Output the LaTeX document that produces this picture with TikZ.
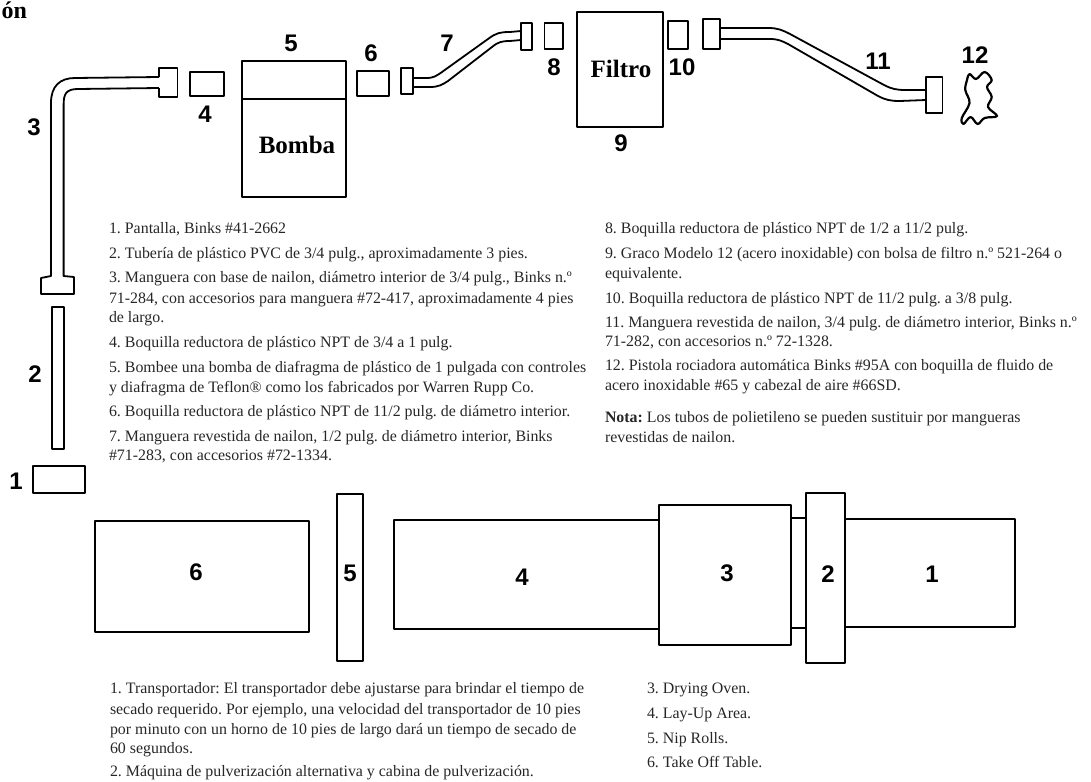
\documentclass[tikz,border=0pt]{standalone}
\usepackage{fontspec}
\setmainfont{Liberation Serif}
\newfontfamily\lblfont{Liberation Sans}
\tikzset{
  part/.style={draw=black,line width=1.8pt,line join=round,fill=none},
  thin part/.style={draw=black,line width=1.5pt,line join=round},
  tx/.style={anchor=base west,inner sep=0pt,outer sep=0pt,text=black!85,font=\frenchspacing\fontsize{15.9}{16}\selectfont},
  num/.style={inner sep=0pt,font=\lblfont\bfseries\fontsize{24}{24}\selectfont},
  head/.style={inner sep=0pt,font=\bfseries\fontsize{25}{25}\selectfont}
}
\newcommand{\tline}[4]{\node[tx] (#1) at (#2,#3) {#4};}
\begin{document}
\begin{tikzpicture}[x=1pt,y=-1pt]
\useasboundingbox (0,0) rectangle (1091,781);
\node[inner sep=0pt,anchor=base west,font=\bfseries\fontsize{24}{24}\selectfont] (title) at (1.5,19) {ón};
% hose 3
\draw[part] (159,77) -- (75,78) .. controls (60,78) and (51,86) .. (51,103) -- (51,276) -- (41,278) -- (41,294) -- (74,294) -- (74,277) -- (63.6,276) -- (63.6,105) .. controls (63.6,94) and (66,89) .. (78,89) -- (159,88);
\draw[part] (159,77) -- (159,68) -- (177.5,68) -- (177.5,97) -- (159,97) -- (159,88);
\draw[part] (52,307) rectangle (64,449);
\draw[part] (33,466) rectangle (85,493);
\draw[part] (190,72) rectangle (223.6,96);
% pump
\draw[part] (242,61) rectangle (346,197);
\draw[part] (242,99) -- (346,99);
\draw[part] (357,71) rectangle (389,96);
% hose 7
\draw[part] (401,68) rectangle (413,94);
\draw[part] (413,78) -- (426,78) .. controls (434,78) and (436,76) .. (442,72) -- (488,39) .. controls (496,33) and (500,32) .. (510,32) -- (521,31);
\draw[part] (413,87) -- (430,87) .. controls (438,87) and (442,85) .. (448,81) -- (492,47) .. controls (498,42) and (502,41) .. (510,41) -- (521,40);
\draw[part] (521,23) rectangle (532,50);
\draw[part] (544.5,23) rectangle (563,49);
% filter
\draw[part] (577,12) rectangle (663,127);
\draw[part] (668,21) rectangle (688,49);
% hose 11
\draw[part] (703,19) rectangle (720,49);
\draw[part] (720,28) -- (768,28) .. controls (778,28) and (782,30) .. (790,34) -- (884,85) .. controls (892,89) and (896,90) .. (906,90) -- (926,90);
\draw[part] (720,39) -- (770,39) .. controls (778,39) and (782,41) .. (788,44) -- (878,96) .. controls (886,100) and (890,101) .. (900,101) -- (926,100);
\draw[part] (926,77) rectangle (942.5,113);
% gun
\draw[draw=black,line width=2.2pt,line join=round] plot[smooth cycle,tension=0.6] coordinates {(969.5,74) (976,79) (984.6,72) (991.7,80) (987,87) (991.7,97) (988,107) (997,116) (984.6,118) (977.6,124) (970.6,117) (963.5,124) (961.8,118) (969.5,103) (965.3,90) (967,80)};
% conveyor line
\draw[thin part] (95,521) rectangle (309,632);
\draw[thin part] (337,494) rectangle (363,661);
\draw[thin part] (394,520) rectangle (659,629);
\draw[thin part] (659,505) rectangle (791,645);
\draw[thin part] (791,518) rectangle (806,628);
\draw[thin part] (806,493) rectangle (845,663);
\draw[thin part] (845,519) rectangle (1015,627);
% labels top
\node[num] (n1) at (16,481) {1};
\node[num] (n2) at (35,374) {2};
\node[num] (n3) at (34,127) {3};
\node[num] (n4) at (205,114) {4};
\node[num] (n5) at (291,43) {5};
\node[num] (n6) at (371,53) {6};
\node[num] (n7) at (447,43) {7};
\node[num] (n8) at (554,67) {8};
\node[num] (n9) at (621,143) {9};
\node[num] (n10) at (682,67) {10};
\node[num] (n11) at (878,61) {11};
\node[num] (n12) at (975,55) {12};
\node[head] (bomba) at (297,145) {Bomba};
\node[head] (filtro) at (621,69) {Filtro};
% labels bottom
\node[num] (m6) at (196,572) {6};
\node[num] (m5) at (350,573) {5};
\node[num] (m4) at (522,577) {4};
\node[num] (m3) at (727,573) {3};
\node[num] (m2) at (828,574) {2};
\node[num] (m1) at (932,574) {1};
% text left
\tline{a1}{109}{233}{1. Pantalla, Binks \#41-2662}
\tline{a2}{109}{258}{2. Tubería de plástico PVC de 3/4 pulg., aproximadamente 3 pies.}
\tline{a3}{109}{282}{3. Manguera con base de nailon, diámetro interior de 3/4 pulg., Binks n.º}
\tline{a4}{109}{303}{71-284, con accesorios para manguera \#72-417, aproximadamente 4 pies}
\tline{a5}{109}{322}{de largo.}
\tline{a6}{109}{347}{4. Boquilla reductora de plástico NPT de 3/4 a 1 pulg.}
\tline{a7}{109}{372}{5. Bombee una bomba de diafragma de plástico de 1 pulgada con controles}
\tline{a8}{109}{392}{y diafragma de Teflon® como los fabricados por Warren Rupp Co.}
\tline{a9}{109}{416}{6. Boquilla reductora de plástico NPT de 11/2 pulg. de diámetro interior.}
\tline{a10}{109}{441}{7. Manguera revestida de nailon, 1/2 pulg. de diámetro interior, Binks}
\tline{a11}{109}{460}{\#71-283, con accesorios \#72-1334.}
% text right
\tline{b1}{605}{233}{8. Boquilla reductora de plástico NPT de 1/2 a 11/2 pulg.}
\tline{b2}{605}{258}{9. Graco Modelo 12 (acero inoxidable) con bolsa de filtro n.º 521-264 o}
\tline{b3}{605}{278}{equivalente.}
\tline{b4}{605}{303}{10. Boquilla reductora de plástico NPT de 11/2 pulg. a 3/8 pulg.}
\tline{b5}{605}{327}{11. Manguera revestida de nailon, 3/4 pulg. de diámetro interior, Binks n.º}
\tline{b6}{605}{346}{71-282, con accesorios n.º 72-1328.}
\tline{b7}{605}{370}{12. Pistola rociadora automática Binks \#95A con boquilla de fluido de}
\tline{b8}{605}{390}{acero inoxidable \#65 y cabezal de aire \#66SD.}
\tline{b9}{605}{422}{\textbf{Nota:} Los tubos de polietileno se pueden sustituir por mangueras}
\tline{b10}{605}{442}{revestidas de nailon.}
% text bottom
\tline{c1}{110}{693}{1. Transportador: El transportador debe ajustarse para brindar el tiempo de}
\tline{c2}{110}{714}{secado requerido. Por ejemplo, una velocidad del transportador de 10 pies}
\tline{c3}{110}{734}{por minuto con un horno de 10 pies de largo dará un tiempo de secado de}
\tline{c4}{110}{753}{60 segundos.}
\tline{c5}{110}{776}{2. Máquina de pulverización alternativa y cabina de pulverización.}
\tline{d1}{647}{693}{3. Drying Oven.}
\tline{d2}{647}{718}{4. Lay-Up Area.}
\tline{d3}{647}{743}{5. Nip Rolls.}
\tline{d4}{647}{767}{6. Take Off Table.}
\end{tikzpicture}
\end{document}
